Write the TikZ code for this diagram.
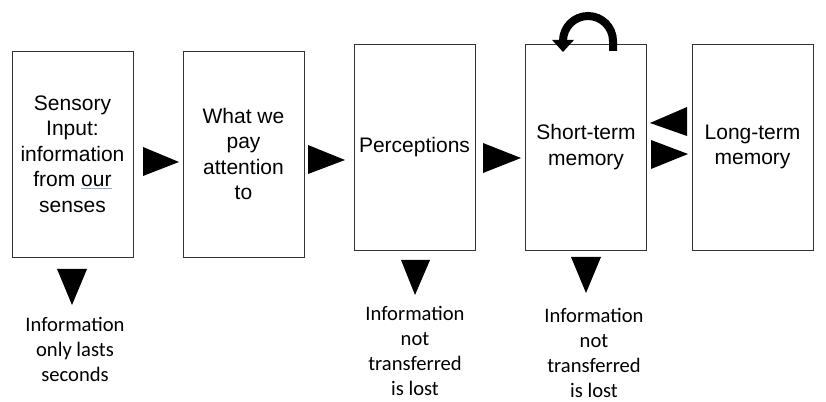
\documentclass[tikz,border=0pt]{standalone}
\usepackage{fontspec}
\usepackage{xcolor}
\usetikzlibrary{arrows.meta}
\newfontfamily\boxfont{Liberation Sans}
\newfontfamily\notefont{Carlito}
\definecolor{spellBlue}{rgb}{0.55, 0.65, 0.9}

\begin{document}
\begin{tikzpicture}[x=1pt, y=1pt,
	box/.style={draw=black!80, line width=0.8pt, minimum width=121pt, minimum height=206pt, inner sep=0pt, align=center, font=\boxfont\fontsize{21}{25.5}\selectfont},
	lost/.style={align=center, inner sep=0pt, font=\notefont\fontsize{20.6}{25}\selectfont}]
	\useasboundingbox (0,0) rectangle (826,401);

	% Stages of memory
	\node[box] (sensory) at (72.5,247) {Sensory\\Input:\\information\\from {\color{spellBlue}\underline{\color{black}our}}\\senses};
	\node[box] (attention) at (243.5,247) {What we\\pay\\attention\\to};
	\node[box] (perception) at (414.5,254) {Perceptions};
	\node[box] (shortterm) at (586,254) {Short-term\\memory};
	\node[box] (longterm) at (752.5,254) {Long-term\\memory};

	% Arrows between the stages
	\fill (143,254) -- (179,239) -- (143,225) -- cycle;
	\fill (308,256) -- (345,241) -- (308,227) -- cycle;
	\fill (483,258) -- (521,243) -- (483,228) -- cycle;
	\fill (687,294) -- (650,278) -- (687,265) -- cycle; % back from long-term
	\fill (651,261) -- (688,247) -- (651,232) -- cycle; % into long-term

	% Loop on short-term memory
	\draw[line width=8pt, -{Triangle[length=12pt, width=21pt]}] (613,350) -- (613,360) arc[start angle=0, end angle=180, radius=25] -- (563,349);

	% What is lost
	\fill (57,132) -- (87,132) -- (72,96) -- cycle;
	\fill (401,141) -- (430,141) -- (415,106) -- cycle;
	\fill (571,144) -- (601,144) -- (586,108) -- cycle;

	\node[lost] (seconds) at (75,52) {Information\\only lasts\\seconds};
	\node[lost] (lostA) at (415,50.5) {Information\\not\\transferred\\is lost};
	\node[lost] (lostB) at (594,48.5) {Information\\not\\transferred\\is lost};
\end{tikzpicture}
\end{document}
